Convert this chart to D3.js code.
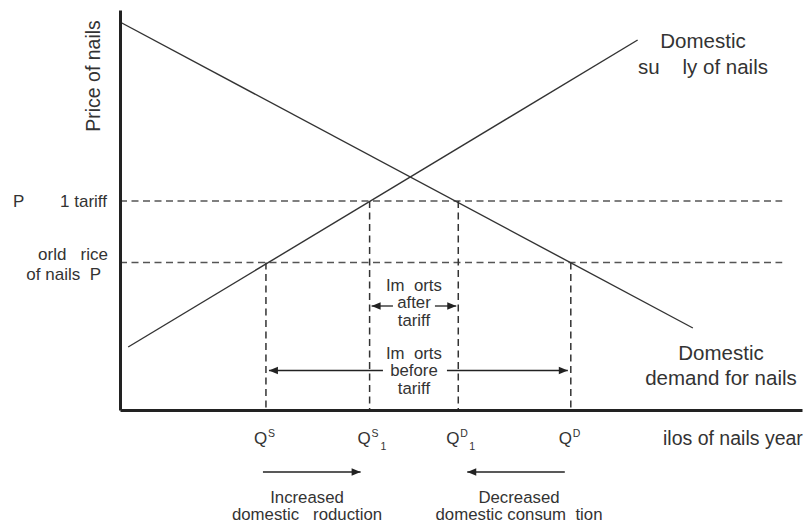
<!DOCTYPE html>
<html><head><meta charset="utf-8">
<script src="https://cdn.jsdelivr.net/npm/d3@7/dist/d3.min.js"></script>
<style>
body{margin:0;background:#fff}
text{font-family:"Liberation Sans",Arial,Helvetica,sans-serif;fill:#333;white-space:pre}
</style>
</head><body>
<svg id="chart" width="808" height="525"></svg>
<script>
// ---- data ----
const quantityNames = ["QS", "QS1", "QD1", "QD"];
const quantityValues = [21.4, 36.6, 49.6, 66.1];
const quantitySup = ["S", "S", "D", "D"];
const quantitySub = ["", "1", "1", ""];
const priceNames = ["tariff", "world"];
const priceValues = [52.25, 36.9];
const demandQ = [0, 84.0];
const demandP = [97, 20.5];
const supplyQ = [1.2, 75.9];
const supplyP = [15.75, 92.5];
const dashEndQ = 97.1;

// ---- scales ----
const svg = d3.select("#chart");
const x = d3.scaleLinear().domain([0, 100]).range([120, 802]);
const y = d3.scaleLinear().domain([0, 100]).range([410, 10]);

// markers
const defs = svg.append("defs");
defs.append("marker").attr("id", "ah").attr("viewBox", "0 -5 10 10")
  .attr("refX", 10).attr("refY", 0).attr("markerWidth", 10).attr("markerHeight", 9)
  .attr("markerUnits", "userSpaceOnUse").attr("orient", "auto")
  .append("path").attr("d", "M0,-4.2L10,0L0,4.2Z").attr("fill", "#222");

// ---- dashed price lines ----
svg.selectAll("line.pdash").data(priceValues).join("line").attr("class", "pdash")
  .attr("x1", x(0)).attr("x2", x(dashEndQ))
  .attr("y1", d => y(d)).attr("y2", d => y(d))
  .attr("stroke", "#555").attr("stroke-width", 1.5).attr("stroke-dasharray", "7,4.5");

// ---- dashed quantity lines ----
const qTop = [priceValues[1], priceValues[0], priceValues[0], priceValues[1]];
svg.selectAll("line.qdash").data(quantityValues).join("line").attr("class", "qdash")
  .attr("x1", d => x(d)).attr("x2", d => x(d))
  .attr("y1", (d, i) => y(qTop[i])).attr("y2", y(0))
  .attr("stroke", "#333").attr("stroke-width", 1.5).attr("stroke-dasharray", "7,4.5");

// ---- supply & demand ----
const line = d3.line().x(d => x(d[0])).y(d => y(d[1]));
svg.append("path").datum(d3.zip(demandQ, demandP)).attr("d", line)
  .attr("fill", "none").attr("stroke", "#333").attr("stroke-width", 1.4);
svg.append("path").datum(d3.zip(supplyQ, supplyP)).attr("d", line)
  .attr("fill", "none").attr("stroke", "#333").attr("stroke-width", 1.4);

// ---- axes ----
svg.append("g").attr("transform", `translate(${x(0)},0)`)
  .call(d3.axisLeft(y).tickValues([]).tickSizeOuter(0));
svg.append("g").attr("transform", `translate(0,${y(0)})`)
  .call(d3.axisBottom(x).tickValues([]).tickSizeOuter(0));
svg.selectAll(".domain").attr("stroke", "#222").attr("stroke-width", 3);

// ---- import arrows ----
const qs = x(quantityValues[0]), qs1 = x(quantityValues[1]), qd1 = x(quantityValues[2]), qd = x(quantityValues[3]);
const midX = (qs1 + qd1) / 2;
function arrowSeg(x1, x2, yy) {
  svg.append("line").attr("x1", x1).attr("x2", x2).attr("y1", yy).attr("y2", yy)
    .attr("stroke", "#222").attr("stroke-width", 1.3).attr("marker-end", "url(#ah)");
}
const yAfter = 306, yBefore = 370.5;
arrowSeg(midX - 21, qs1 + 2, yAfter);
arrowSeg(midX + 21, qd1 - 2, yAfter);
arrowSeg(midX - 31, qs + 3, yBefore);
arrowSeg(midX + 33, qd - 3, yBefore);

function block(lines, cx, firstBaseline, lineH, size) {
  const t = svg.append("text").attr("x", cx).attr("y", firstBaseline)
    .attr("text-anchor", "middle").attr("font-size", size);
  lines.forEach((s, i) => {
    t.append("tspan").attr("x", cx).attr("dy", i === 0 ? 0 : lineH).text(s);
  });
}
block(["Im  orts", "after", "tariff"], midX, 290.5, 17.5, 16.8);
block(["Im  orts", "before", "tariff"], midX, 358.5, 17.5, 16.8);

// ---- quantity labels ----
quantityValues.forEach((v, i) => {
  const cx = x(v);
  svg.append("text").attr("x", cx - 12).attr("y", 444).attr("font-size", 17).text("Q");
  svg.append("text").attr("x", cx + 2).attr("y", 437).attr("font-size", 10.5).text(quantitySup[i]);
  if (quantitySub[i]) svg.append("text").attr("x", cx + 11).attr("y", 450).attr("font-size", 10.5).text(quantitySub[i]);
});

// ---- bottom arrows ----
svg.append("line").attr("x1", qs - 3).attr("x2", qs1 - 9).attr("y1", 472).attr("y2", 472)
  .attr("stroke", "#222").attr("stroke-width", 1.3).attr("marker-end", "url(#ah)");
svg.append("line").attr("x1", qd - 6).attr("x2", qd1 + 9).attr("y1", 472).attr("y2", 472)
  .attr("stroke", "#222").attr("stroke-width", 1.3).attr("marker-end", "url(#ah)");
block(["Increased", "domestic   roduction"], 307, 502.5, 17.5, 16.8);
block(["Decreased", "domestic consum  tion"], 519, 502.5, 17.5, 16.8);

// ---- price labels ----
svg.append("text").attr("x", 13).attr("y", y(priceValues[0]) + 6).attr("font-size", 17).text("P");
svg.append("text").attr("x", 107).attr("y", y(priceValues[0]) + 6).attr("text-anchor", "end").attr("font-size", 17).text("1 tariff");
svg.append("text").attr("x", 108).attr("y", 260).attr("text-anchor", "end").attr("font-size", 17).text("orld   rice");
svg.append("text").attr("x", 101).attr("y", 280).attr("text-anchor", "end").attr("font-size", 17).text("of nails  P");

// ---- axis titles ----
svg.append("text").attr("transform", "translate(100,76) rotate(-90)").attr("text-anchor", "middle")
  .attr("font-size", 19.5).text("Price of nails");
svg.append("text").attr("x", 663).attr("y", 445).attr("font-size", 19.5).text("ilos of nails year");

// ---- curve labels ----
block(["Domestic", "su    ly of nails"], 703, 48, 26, 20.5);
block(["Domestic", "demand for nails"], 721, 360, 25, 20.5);
</script>
</body></html>
